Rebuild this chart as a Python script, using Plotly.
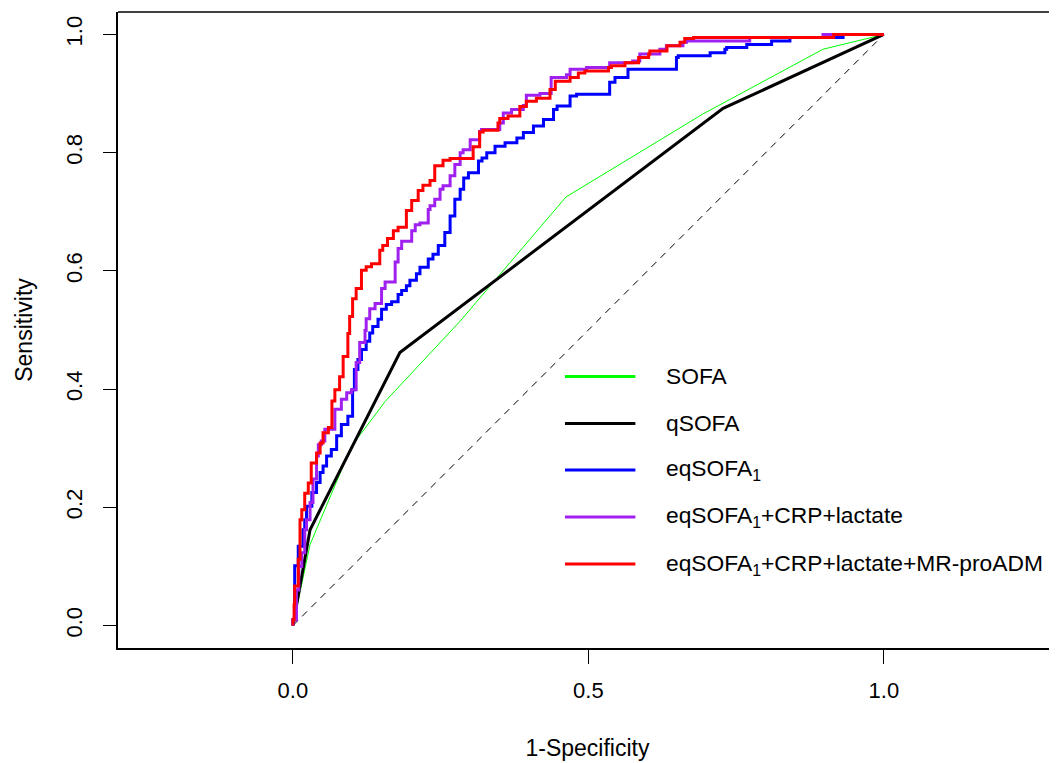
import plotly.graph_objects as go

# ROC curves (1-specificity, sensitivity)
sofa_fpr = [0, 0.029, 0.099, 0.156, 0.283, 0.462, 0.693, 0.897, 1.0]
sofa_tpr = [0, 0.137, 0.303, 0.379, 0.515, 0.725, 0.865, 0.975, 1.0]

qsofa_fpr = [0, 0.029, 0.181, 0.728, 1.0]
qsofa_tpr = [0, 0.162, 0.462, 0.875, 1.0]

eq_fpr = [0, 0.003, 0.003, 0.009, 0.017, 0.020, 0.023, 0.032, 0.040, 0.046, 0.051, 0.057,
          0.065, 0.074, 0.082, 0.093, 0.101, 0.104, 0.110, 0.116, 0.124, 0.130, 0.135, 0.144,
          0.150, 0.158, 0.167, 0.178, 0.184, 0.192, 0.198, 0.209, 0.215, 0.229, 0.237, 0.246,
          0.257, 0.266, 0.274, 0.283, 0.289, 0.297, 0.314, 0.320, 0.328, 0.342, 0.359, 0.379,
          0.390, 0.407, 0.424, 0.441, 0.447, 0.469, 0.480, 0.486, 0.536, 0.545, 0.567, 0.573,
          0.649, 0.652, 0.706, 0.708, 0.731, 0.734, 0.768, 0.770, 0.810, 0.813, 0.841, 0.841,
          0.931, 0.931, 1.0]
eq_tpr = [0, 0.010, 0.072, 0.101, 0.134, 0.162, 0.179, 0.202, 0.225, 0.242, 0.259, 0.270,
          0.287, 0.298, 0.321, 0.340, 0.354, 0.399, 0.433, 0.450, 0.467, 0.481, 0.495, 0.506,
          0.518, 0.535, 0.543, 0.548, 0.560, 0.567, 0.575, 0.584, 0.595, 0.606, 0.620, 0.628,
          0.643, 0.665, 0.693, 0.721, 0.738, 0.757, 0.766, 0.786, 0.791, 0.800, 0.811, 0.817,
          0.825, 0.834, 0.845, 0.856, 0.873, 0.879, 0.896, 0.899, 0.899, 0.919, 0.927, 0.941,
          0.941, 0.961, 0.964, 0.969, 0.969, 0.975, 0.978, 0.983, 0.983, 0.989, 0.989, 0.995,
          0.995, 1.0, 1.0]

eq_crp_fpr = [0, 0.006, 0.010, 0.015, 0.020, 0.023, 0.029, 0.034, 0.040, 0.043, 0.048, 0.054,
              0.071, 0.082, 0.091, 0.099, 0.107, 0.113, 0.122, 0.124, 0.130, 0.139, 0.150, 0.156,
              0.173, 0.178, 0.184, 0.201, 0.207, 0.215, 0.229, 0.232, 0.240, 0.249, 0.254, 0.266,
              0.274, 0.283, 0.288, 0.300, 0.316, 0.319, 0.350, 0.356, 0.370, 0.390, 0.395, 0.418,
              0.437, 0.463, 0.469, 0.497, 0.536, 0.575, 0.587, 0.621, 0.632, 0.660, 0.666, 0.678,
              0.773, 0.773, 0.897, 0.897, 1.0]
eq_crp_tpr = [0, 0.010, 0.060, 0.100, 0.123, 0.162, 0.179, 0.208, 0.248, 0.287, 0.306, 0.312,
              0.332, 0.366, 0.383, 0.394, 0.399, 0.445, 0.479, 0.499, 0.519, 0.536, 0.545, 0.570,
              0.581, 0.615, 0.638, 0.650, 0.668, 0.678, 0.681, 0.704, 0.710, 0.721, 0.738, 0.744,
              0.761, 0.780, 0.800, 0.805, 0.822, 0.836, 0.839, 0.850, 0.867, 0.873, 0.880, 0.897,
              0.900, 0.927, 0.932, 0.941, 0.944, 0.952, 0.955, 0.967, 0.975, 0.981, 0.987, 0.989,
              0.989, 0.995, 0.995, 1.0, 1.0]

eq_adm_fpr = [0, 0.002, 0.003, 0.009, 0.012, 0.015, 0.020, 0.026, 0.031, 0.040, 0.046, 0.051,
              0.060, 0.066, 0.071, 0.079, 0.085, 0.093, 0.096, 0.101, 0.107, 0.116, 0.124, 0.133,
              0.147, 0.152, 0.160, 0.170, 0.178, 0.192, 0.201, 0.212, 0.220, 0.232, 0.240, 0.254,
              0.266, 0.305, 0.316, 0.322, 0.347, 0.350, 0.364, 0.384, 0.395, 0.412, 0.435, 0.444,
              0.469, 0.483, 0.494, 0.534, 0.539, 0.562, 0.585, 0.602, 0.604, 0.633, 0.655, 0.663,
              0.678, 0.915, 0.915, 1.0]
eq_adm_tpr = [0, 0.010, 0.035, 0.067, 0.112, 0.179, 0.196, 0.224, 0.241, 0.275, 0.292, 0.309,
              0.326, 0.335, 0.380, 0.399, 0.421, 0.455, 0.494, 0.523, 0.553, 0.570, 0.601, 0.607,
              0.612, 0.635, 0.643, 0.655, 0.668, 0.674, 0.702, 0.719, 0.736, 0.745, 0.753, 0.778,
              0.787, 0.790, 0.810, 0.835, 0.838, 0.850, 0.858, 0.862, 0.878, 0.887, 0.892, 0.907,
              0.921, 0.927, 0.935, 0.938, 0.944, 0.947, 0.952, 0.961, 0.967, 0.972, 0.981, 0.987,
              0.993, 0.995, 1.0, 1.0]

chance_fpr = [0, 1]
chance_tpr = [0, 1]

labels = ["SOFA", "qSOFA", "eqSOFA<sub>1</sub>", "eqSOFA<sub>1</sub>+CRP+lactate",
          "eqSOFA<sub>1</sub>+CRP+lactate+MR-proADM"]
colors = ["#00FF00", "#000000", "#0000FF", "#A020F0", "#FF0000"]
widths = [1, 3, 3, 3, 3]
shapes_ = ["linear", "linear", "vh", "vh", "vh"]
series = [(sofa_fpr, sofa_tpr), (qsofa_fpr, qsofa_tpr), (eq_fpr, eq_tpr),
          (eq_crp_fpr, eq_crp_tpr), (eq_adm_fpr, eq_adm_tpr)]

FONT = "Liberation Sans, Arial, sans-serif"

fig = go.Figure()
fig.add_trace(go.Scatter(x=chance_fpr, y=chance_tpr, mode="lines",
                         line=dict(color="black", width=1, dash="7px,6px"),
                         showlegend=False, hoverinfo="skip"))
for (fx, ty), name, col, w, shp in zip(series, labels, colors, widths, shapes_):
    fig.add_trace(go.Scatter(x=fx, y=ty, mode="lines", name=name,
                             line=dict(color=col, width=w, shape=shp),
                             showlegend=False))

# legend drawn R-style (no box), lines then text
leg_y = [0.427, 0.353, 0.28, 0.206, 0.132]
shapes = [dict(type="line", xref="paper", yref="paper", x0=0, x1=1, y0=1, y1=1,
               line=dict(color="black", width=1.5))]
annotations = []
for lab, col, yy in zip(labels, colors, leg_y):
    shapes.append(dict(type="line", xref="paper", yref="paper", x0=0.476, x1=0.551,
                       y0=yy, y1=yy, line=dict(color=col, width=3)))
    annotations.append(dict(xref="paper", yref="paper", x=0.582, y=yy, text=lab,
                            showarrow=False, xanchor="left", yanchor="middle",
                            font=dict(size=22.8, color="black", family=FONT)))

# page body has an 8px default margin, so the figure is shrunk by that much
fig.update_layout(
    width=1049, height=755,
    margin=dict(l=110, r=0, t=4, b=115),
    paper_bgcolor="white", plot_bgcolor="white",
    font=dict(family=FONT, size=22, color="black"),
    shapes=shapes, annotations=annotations,
    showlegend=False,
)
fig.update_xaxes(range=[-0.296, 1.293], tickvals=[0, 0.5, 1.0], ticktext=["0.0", "0.5", "1.0"],
                 showgrid=False, zeroline=False, showline=True, linecolor="black", linewidth=1.5,
                 ticks="outside", ticklen=14, tickwidth=1, tickcolor="black",
                 ticklabelstandoff=8,
                 title=dict(text="1-Specificity", standoff=38, font=dict(size=23)))
fig.update_yaxes(range=[-0.038, 1.038], tickvals=[0, 0.2, 0.4, 0.6, 0.8, 1.0],
                 ticktext=["0.0", "0.2", "0.4", "0.6", "0.8", "1.0"], tickangle=-90,
                 showgrid=False, zeroline=False, showline=True, linecolor="black", linewidth=1.5,
                 ticks="outside", ticklen=13, tickwidth=1, tickcolor="black",
                 ticklabelstandoff=12,
                 title=dict(text="Sensitivity", standoff=23, font=dict(size=23)))

fig.write_html("out.html")
